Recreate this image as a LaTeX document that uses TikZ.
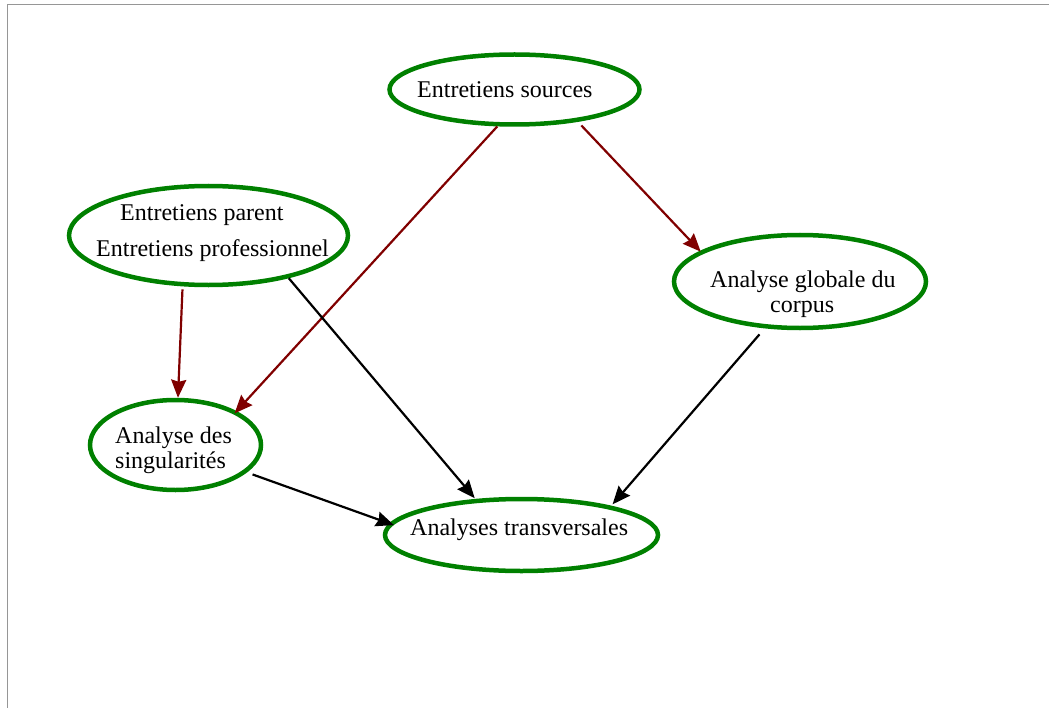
\documentclass[tikz,border=0pt]{standalone}
\usepackage{fontspec}
\setmainfont{Liberation Serif}
\usetikzlibrary{arrows.meta,shapes.geometric}
\definecolor{ovalgreen}{RGB}{0,128,0}
\definecolor{darkred}{RGB}{128,0,0}
\definecolor{framegray}{RGB}{150,150,150}
\begin{document}
\begin{tikzpicture}[x=1bp,y=-1bp,
  oval/.style={ellipse, draw=ovalgreen, line width=4.5bp, inner sep=0pt},
  txt/.style={anchor=base west, inner sep=0pt, font=\fontsize{24bp}{28bp}\selectfont},
  tipstyle/.style={-{Stealth[length=18bp,width=15bp,inset=2bp]}},
  redarrow/.style={draw=darkred, line width=2.2bp, tipstyle},
  blackarrow/.style={draw=black, line width=2.2bp, tipstyle}]
\useasboundingbox (0,0) rectangle (1049,708);
\draw[framegray, line width=1.5bp] (7.5,708) -- (7.5,4.5) -- (1049,4.5);

% ovals
\node[oval, minimum width=250bp, minimum height=70bp] (src) at (514.5,89.5) {};
\node[oval, minimum width=279bp, minimum height=99bp] (par) at (208.5,235.5) {};
\node[oval, minimum width=252bp, minimum height=93bp] (glob) at (800,281.5) {};
\node[oval, minimum width=171bp, minimum height=90bp] (sing) at (175.5,445) {};
\node[oval, minimum width=273bp, minimum height=72bp] (trans) at (521.5,535) {};

% texts
\node[txt] (tsrc) at (417,98) {Entretiens sources};
\node[txt] (tpar1) at (120,220) {Entretiens parent};
\node[txt] (tpar2) at (96,256) {Entretiens professionnel};
\node[txt] (tglob1) at (710,287) {Analyse globale du};
\node[txt] (tglob2) at (770,312) {corpus};
\node[txt] (tsing1) at (115,443) {Analyse des};
\node[txt] (tsing2) at (115,468) {singularités};
\node[txt] (ttrans) at (410,535) {Analyses transversales};

% connectors
\draw[redarrow, shorten >=-3bp] (src.245.7) -- (sing.29.1);
\draw[redarrow, shorten <=5bp, shorten >=-1bp] (src.333.1) -- (glob.163);
\draw[redarrow, shorten <=3bp] (par.243.2) -- (sing.87);
\draw[blackarrow, shorten >=1bp] (par.332.1) -- (trans.142.5);
\draw[blackarrow, shorten <=8bp, shorten >=2bp] (glob.233.3) -- (trans.18);
\draw[blackarrow, shorten <=6bp, shorten >=-5bp] (sing.339.5) -- (trans.175.9);
\end{tikzpicture}
\end{document}
